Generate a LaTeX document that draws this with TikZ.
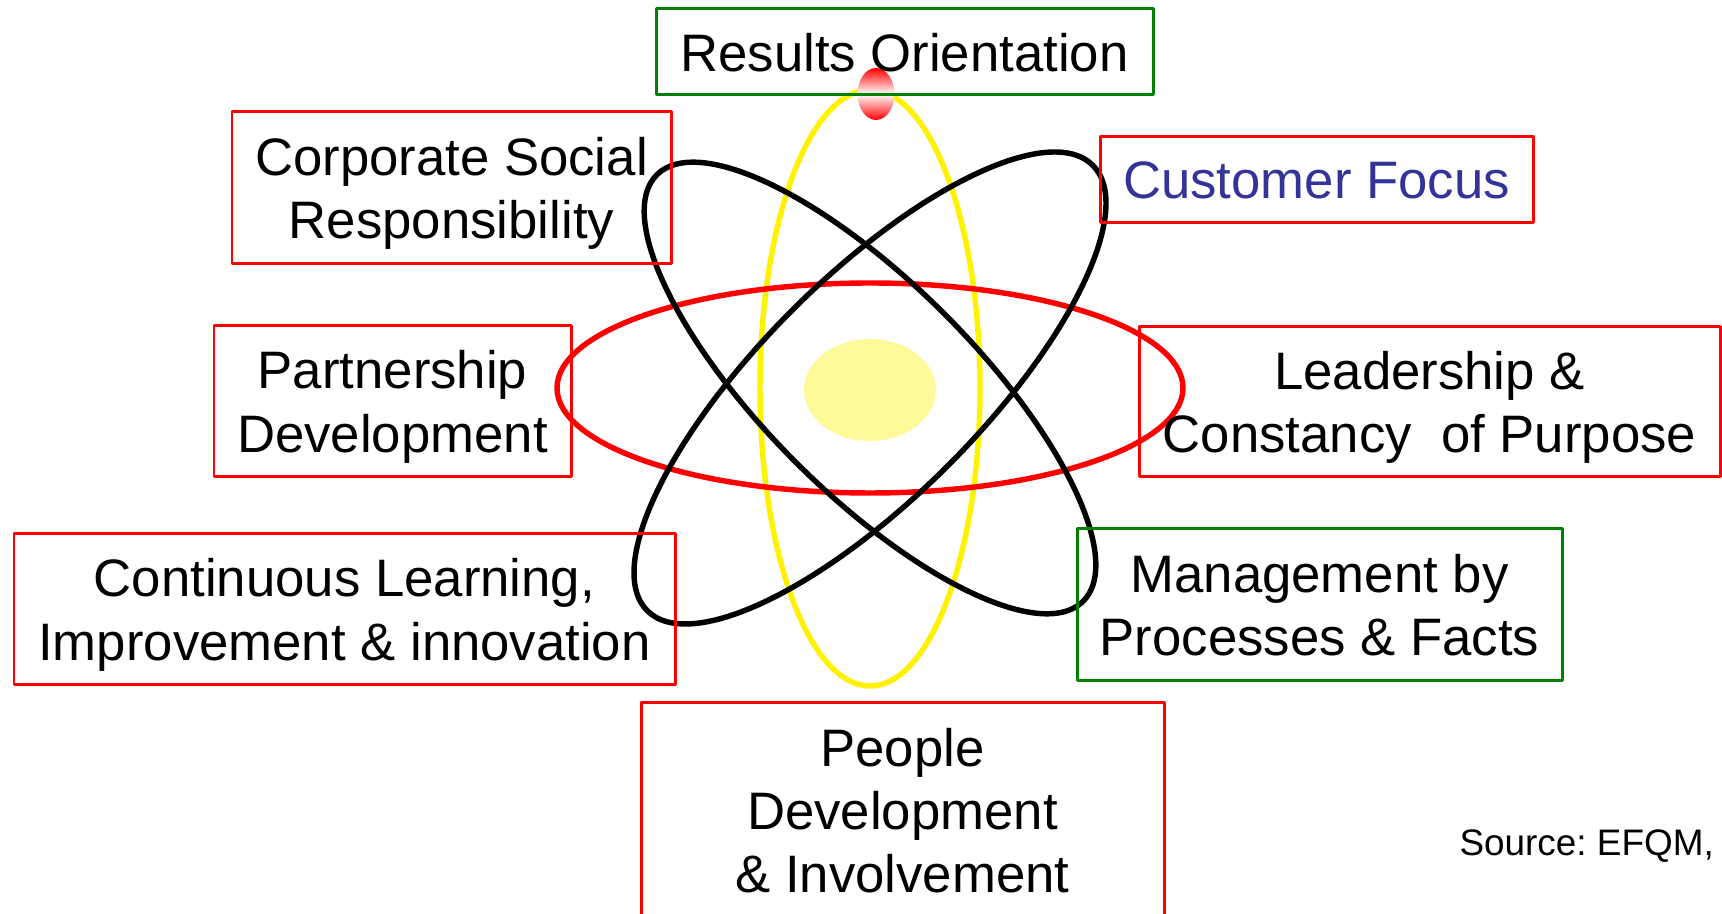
\documentclass[tikz,border=0pt]{standalone}
\usepackage{fontspec}
\setmainfont{Liberation Sans}
\frenchspacing
\definecolor{focusblue}{RGB}{51,51,153}
\begin{document}
\begin{tikzpicture}[font=\fontsize{30}{36}\selectfont, line join=round, line cap=round,
		redbox/.style={draw=red, line width=1.7pt, align=center, inner sep=0pt, text depth=0pt},
		greenbox/.style={redbox, draw=green!50!black},
		orbit/.style={line width=3.1pt}]
		\useasboundingbox (0,0) rectangle (34.44,18.28);
		\coordinate (O) at (17.4,10.52);
		% nucleus and orbits
		\fill[yellow!40] (17.4,10.48) ellipse [x radius=1.32, y radius=1.02];
		\draw[orbit, yellow] (O) ellipse [x radius=2.2, y radius=5.96];
		\draw[orbit, red] (O) ellipse [x radius=6.26, y radius=2.1];
		\draw[orbit, rotate around={45:(O)}] (O) ellipse [x radius=6.3, y radius=2.2];
		\draw[orbit, rotate around={-45:(O)}] (O) ellipse [x radius=6.03, y radius=2.1];
		\shade[top color=red, bottom color=red, middle color=white] (17.52,16.4) ellipse [x radius=0.37, y radius=0.52];
		% labels
		\node[greenbox, minimum width=9.94cm, minimum height=1.72cm] (results) at (18.09,17.24) {Results Orientation};
		\node[redbox, minimum width=8.78cm, minimum height=3.04cm] (csr) at (9.03,14.52) {Corporate Social\\Responsibility};
		\node[redbox, text=focusblue, minimum width=8.66cm, minimum height=1.72cm] (customer) at (26.33,14.68) {Customer Focus};
		\node[redbox, minimum width=7.14cm, minimum height=3.02cm] (partner) at (7.85,10.25) {Partnership\\Development};
		\node[redbox, minimum width=11.62cm, minimum height=3cm] (leader) at (28.59,10.24) {Leadership \&\\Constancy~ of Purpose};
		\node[redbox, minimum width=13.22cm, minimum height=3.02cm] (learning) at (6.89,6.09) {Continuous Learning,\\Improvement \& innovation};
		\node[greenbox, minimum width=9.7cm, minimum height=3.04cm] (processes) at (26.39,6.18) {Management by\\Processes \& Facts};
		\node[redbox, minimum width=10.46cm, minimum height=4.3cm] (people) at (18.05,2.07) {People\\Development\\\& Involvement};
		\node[anchor=base east, font=\fontsize{21}{25}\selectfont] (source) at (34.4,1.16) {Source: EFQM,};
\end{tikzpicture}
\end{document}
